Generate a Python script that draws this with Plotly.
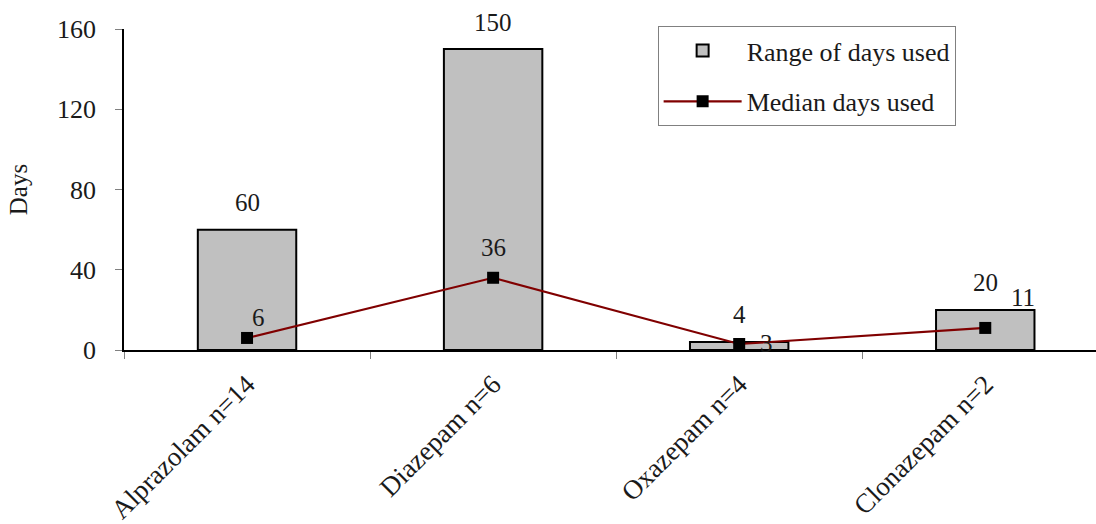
import plotly.graph_objects as go

# Benzodiazepine usage: range and median number of days used
drugs = ["Alprazolam n=14", "Diazepam n=6", "Oxazepam n=4", "Clonazepam n=2"]
range_days = [60, 150, 4, 20]
median_days = [6, 36, 3, 11]

# pixel offsets for the median labels (x, y)
median_label_offsets = [(11, 20), (0, 30), (27, 0), (38, 30)]

FONT = "Liberation Serif"
TXT = "#1a1a1a"
SIZE = 25

fig = go.Figure()

fig.add_trace(go.Bar(
    x=drugs, y=range_days, name="Range of days used",
    marker=dict(color="#C0C0C0", line=dict(color="black", width=2)),
    width=0.4, legendgroup="a",
))

fig.add_trace(go.Scatter(
    x=drugs, y=median_days, name="Median days used", mode="lines+markers",
    line=dict(color="#800000", width=2.2),
    marker=dict(symbol="square", size=12, color="black"),
    legendgroup="b",
))

# value labels above the bars
for d, v in zip(drugs, range_days):
    fig.add_annotation(x=d, y=v, text=str(v), showarrow=False,
                       yshift=27, font=dict(family=FONT, size=SIZE, color=TXT))

# value labels next to the median markers
for d, v, (dx, dy) in zip(drugs, median_days, median_label_offsets):
    fig.add_annotation(x=d, y=v, text=str(v), showarrow=False,
                       xshift=dx, yshift=dy,
                       font=dict(family=FONT, size=SIZE, color=TXT))

fig.update_layout(
    width=1096, height=524,
    margin=dict(l=124, r=0, t=29, b=174),
    paper_bgcolor="white", plot_bgcolor="white",
    font=dict(family=FONT, size=SIZE, color=TXT),
    showlegend=True,
    legend=dict(x=0.549, y=1.009, xanchor="left", yanchor="top",
                bordercolor="#808080", borderwidth=1, bgcolor="white",
                font=dict(family=FONT, size=26, color=TXT),
                traceorder="grouped", tracegroupgap=14,
                itemwidth=78),
    bargap=0.6,
)

fig.update_xaxes(
    type="category", range=[-0.5, 3.45], tickson="boundaries",
    showline=True, linecolor="black", linewidth=1.5,
    ticks="outside", ticklen=7, tickcolor="#808080",
    ticklabelstandoff=6,
    tickangle=-45, tickfont=dict(family=FONT, size=27, color=TXT),
    showgrid=False, zeroline=False,
)
fig.update_yaxes(
    range=[0, 160], tickvals=[0, 40, 80, 120, 160],
    showline=True, linecolor="black", linewidth=1.5,
    ticks="outside", ticklen=7, tickcolor="#808080",
    ticklabelstandoff=14,
    tickfont=dict(family=FONT, size=26, color=TXT),
    showgrid=False, zeroline=False,
    title=dict(text="Days", font=dict(family=FONT, size=SIZE, color=TXT), standoff=22),
)

fig.write_html("out.html")
